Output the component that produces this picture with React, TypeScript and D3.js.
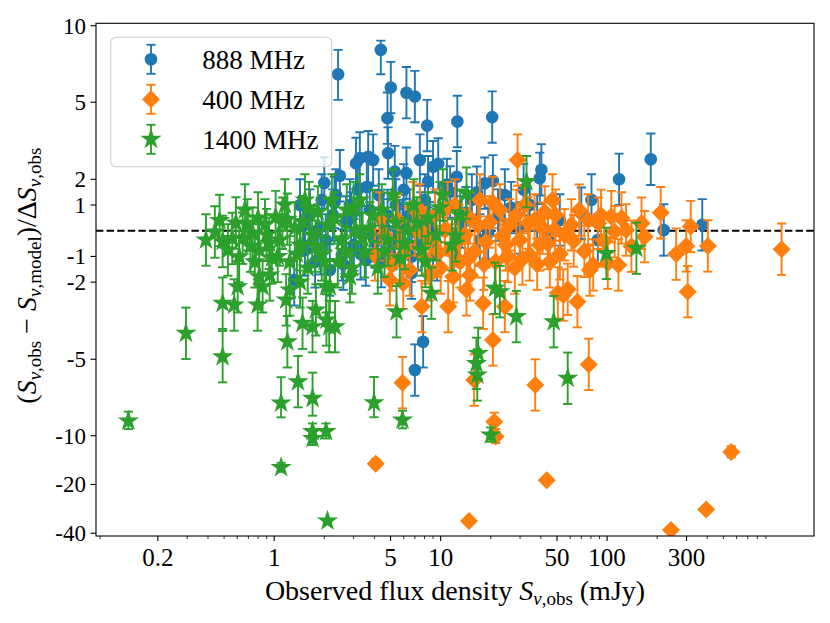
import React from 'react';
import * as d3 from 'd3';

const W = 830;
const H = 623;
const LEFT = 96;
const RIGHT = 814;
const TOP = 23.3;
const BOTTOM = 536;
const FONT = '"Liberation Serif", "Times New Roman", serif';

const X_DOMAIN: [number, number] = [0.085, 1750];
const Y_DOMAIN: [number, number] = [-41.6, 10.35];
const LINTHRESH = 7;
const YERR = 1;

const xTicks = [0.2, 1, 5, 10, 50, 100, 300];
const xTickLabels = ['0.2', '1', '5', '10', '50', '100', '300'];
const yTicks = [10, 5, 2, 1, -1, -2, -5, -10, -20, -40];
const yTickLabels = ['10', '5', '2', '1', '-1', '-2', '-5', '-10', '-20', '-40'];

const seriesNames = ['888 MHz', '400 MHz', '1400 MHz'];
const seriesColors = ['#1f77b4', '#ff7f0e', '#2ca02c'];
const seriesMarkers = ['circle', 'diamond', 'star'];

const blue888: [number, number][] = [
  [2.42, 6.09], [4.37, 7.09], [5.02, 5.57], [6.23, 5.37], [7.0, 5.22], [4.79, 4.38], [8.3, 4.09],
  [12.6, 4.25], [20.4, 4.42], [4.83, 3.02], [3.27, 2.83], [3.67, 2.88], [3.93, 2.75], [2.48, 2.14],
  [7.5, 2.75], [9.0, 2.49], [9.67, 2.6], [6.23, 2.24], [12.5, 2.1], [20.6, 1.94], [18.4, 1.85],
  [40.3, 2.37], [39.4, 2.04], [8.4, 1.91], [5.3, 2.3], [118, 2.0], [183, 2.78], [373, 0.23],
  [219, 0.03], [70, 0.68], [52, 0.42], [7.85, -4.32], [7.0, -5.42], [6.68, -1.65], [1.32, -1.91],
  [3.1, 2.62], [2.0, 1.86],
  [1.43, 1.0], [1.53, -0.75], [1.64, 0.61], [1.76, -1.21], [1.83, 0.03], [1.93, 1.2], [2.04, -0.36],
  [2.16, -1.53], [2.25, 0.61], [2.35, 1.39], [2.55, -0.94], [2.7, 0.34], [2.85, 1.0], [3.01, -0.55],
  [3.18, 1.59], [3.36, -0.05], [3.55, -1.14], [3.75, 0.81], [4.03, -0.44], [4.25, 1.39], [4.55, 0.23],
  [4.95, -0.82], [5.38, 1.0], [5.68, -0.16], [6.0, 1.59], [6.52, 0.61], [7.3, -0.55], [8.04, 1.2],
  [8.6, 0.11], [9.5, -0.94], [10.4, 0.81], [11.4, 1.51], [13.4, 0.34], [15.4, 1.2], [17.2, -0.36],
  [22.1, 0.61], [24.3, 1.39], [29.9, 0.11], [34.3, 1.0], [44.2, -0.28], [80.6, 1.2], [88, -0.36],
  [1.5, 0.2], [1.9, -0.7], [2.3, 1.1], [2.6, -1.3], [2.9, 0.5], [3.3, -0.9], [3.6, 1.7], [3.9, -0.2],
  [4.4, -1.2], [4.8, 0.6], [5.2, -0.5], [5.9, 0.2], [6.7, -1.0], [7.6, 0.5], [9.0, -0.4], [10.9, 1.8],
  [12.0, -0.9], [14.2, 0.7], [16.5, 1.5], [19.3, -0.1], [26.5, 0.9], [31.5, 1.6], [38, 0.4],
];

const orange400: [number, number][] = [
  [29, 2.75], [20.6, -4.25], [7.7, -2.95], [11.1, -2.95], [14.3, -2.3], [18.0, -2.82], [24.3, -2.95],
  [11.9, -1.79], [5.96, -2.04], [50.6, -2.42], [5.9, -5.91], [4.07, -14.9], [15.9, -5.81], [21, -8.2],
  [21.4, -10.1], [14.8, -33.6], [37, -6.0], [77.6, -5.2], [66.3, -2.76], [43.4, -18.8], [557, -12.6],
  [394, -28.5], [242, -38.2], [1118, -0.72], [305, -2.37], [260, -0.91], [299, -0.59], [403, -0.59],
  [318, 0.16], [210, 0.7], [161, 0.29], [168, -0.23], [117, -1.33], [78.7, -1.53], [82.5, -1.33],
  [58, -2.28], [54.5, -2.5], [106, 0.55], [88.5, 0.29], [77, 0.42], [130, 0.03], [111, -0.04],
  [101, -1.26], [49, 0.61], [55.5, -0.16], [61, 0.23],
  [4.03, -0.94], [4.62, -0.16], [5.09, -1.33], [5.53, 0.42], [6.1, -0.67], [6.52, -1.53], [7.0, 0.03],
  [7.5, 0.81], [8.04, -1.06], [8.6, -0.36], [9.25, 0.61], [10, -1.45], [10.6, 0.03], [11.4, -0.75],
  [12.2, 1.0], [13.1, -1.21], [14.0, -0.16], [15.0, 0.5], [16.0, -0.82], [17.2, 1.2], [18.7, -0.44],
  [19.7, 0.34], [21.4, -1.21], [22.7, 0.81], [24.6, -0.55], [26.0, 0.23], [27.9, -1.45], [29.9, -0.36],
  [32.1, 1.0], [34.3, -0.94], [36.7, 0.42], [39.4, -0.55], [42.2, 0.73], [45.3, -1.21], [48.6, 0.03],
  [15.0, -1.72], [8.6, -1.72], [4.95, -1.91],
  [4.3, 0.5], [5.8, -1.0], [6.8, 0.9], [7.9, -0.1], [9.6, -0.8], [11.0, 0.9], [12.8, -0.4], [14.6, -1.1],
  [16.8, 0.2], [18.2, -1.3], [20.5, 1.1], [23.5, -0.2], [25.3, -1.0], [28.5, 0.6], [31, -1.1], [33.5, 0.3],
  [38, -1.3], [41, 0.1], [44, -0.5], [47, 1.2], [52, -0.9], [63, -0.4], [68, 0.8], [73, -0.8], [92, 0.6],
  [96, -0.4], [122, 0.5], [140, -0.6],
];

const green1400: [number, number][] = [
  [0.133, -8.1], [1.1, -6.7], [1.39, -5.87], [1.7, -6.52], [1.7, -9.4], [2.05, -9.4], [1.7, -10.4],
  [1.1, -15.7], [2.09, -33.6], [3.98, -6.69], [5.9, -8.0], [16.6, -5.61], [20.0, -9.89], [47.8, -3.54],
  [58, -5.74], [32.8, 1.91], [14.3, 1.46], [21.2, -2.24], [28.5, -3.34], [8.8, -2.43], [5.43, -3.15],
  [2.32, -3.73], [2.06, -3.47], [2.85, -1.79], [2.16, -2.18], [16.8, -4.77], [16.4, -5.16], [22.7, -2.37],
  [99, -0.88], [150, -0.68], [0.389, -0.36], [0.49, -0.42], [0.589, 0.3], [0.69, 0.23], [0.646, -0.29],
  [0.742, -0.1], [0.616, -1.01], [0.813, -0.75], [0.933, -0.49], [1.02, 0.55], [1.12, 0.29], [0.603, -2.18],
  [0.49, -2.82], [0.575, -2.89], [0.795, -2.89], [0.813, -1.79], [0.852, -2.18], [0.295, -3.99], [0.49, -4.9],
  [1.18, -2.69], [1.2, -4.32], [1.48, -3.6], [1.7, -3.73], [2.14, -3.73], [1.78, -3.08], [2.05, -2.18],
  [0.44, -0.05], [0.527, -0.75], [0.667, 0.81], [0.765, -1.21], [0.88, 0.23], [0.969, -1.06], [1.08, -0.36],
  [1.16, 1.0], [1.24, -1.21], [1.33, 0.11], [1.43, -0.55], [1.53, 1.2], [1.59, -1.45], [1.69, -0.16],
  [1.83, 0.73], [1.93, -0.94], [2.1, 0.23], [2.22, 1.2], [2.41, -1.21], [2.55, -0.36], [2.73, 0.81],
  [2.93, -1.45], [3.09, 0.03], [3.27, 1.2], [3.5, -0.82], [3.75, 0.11], [4.19, -1.45], [4.43, 0.81],
  [4.82, -0.36], [5.16, 1.39], [5.68, -1.06], [6.36, 0.03], [6.9, 1.0], [7.7, -0.75], [8.4, 0.5],
  [9.4, -0.16], [10.3, 1.39], [11.7, -0.55], [13.1, 0.61], [1.43, -1.99], [0.94, -1.72], [1.24, -2.3],
  [0.47, 0.4], [0.56, -0.3], [0.72, -0.6], [0.8, 0.5], [0.9, -0.15], [1.05, -1.0], [1.2, 0.45], [1.37, -0.9],
  [1.48, 0.35], [1.62, 0.9], [1.77, -0.6], [2.0, -1.2], [2.3, 0.5], [2.65, -0.8], [3.0, 0.9], [3.4, -0.3],
  [3.9, 0.6], [4.6, -0.8], [5.4, 0.3], [6.1, -0.5], [7.2, 0.3], [8.1, -1.2], [9.9, 0.9], [12.3, -0.2],
];

const seriesData = [blue888, orange400, green1400];

const LINSCALE_ADJ = 1 / (1 - 1 / 10);
function symlog(v: number): number {
  const a = Math.abs(v);
  if (a <= LINTHRESH) return v * LINSCALE_ADJ;
  return Math.sign(v) * LINTHRESH * (LINSCALE_ADJ + Math.log10(a / LINTHRESH));
}

const xScale = d3.scaleLog().domain(X_DOMAIN).range([LEFT, RIGHT]);
const yLin = d3.scaleLinear().domain([symlog(Y_DOMAIN[0]), symlog(Y_DOMAIN[1])]).range([BOTTOM, TOP]);
const yScale = (v: number) => yLin(symlog(v));

const minorTicks: number[] = [];
for (let k = -2; k <= 3; k++) {
  for (let m = 2; m <= 9; m++) {
    const v = m * Math.pow(10, k);
    if (v >= X_DOMAIN[0] && v <= X_DOMAIN[1] && !xTicks.some((t) => Math.abs(t - v) / v < 1e-6)) minorTicks.push(v);
  }
}

const starPath = d3.symbol(d3.symbolStar, (11.2 * 11.2) / 0.8908130915292852)()!;
const diamondPath = 'M0,-9L9,0L0,9L-9,0Z';

function Marker({ kind, x, y, color }: { kind: string; x: number; y: number; color: string }) {
  if (kind === 'circle') return <circle cx={x} cy={y} r={6.3} fill={color} />;
  if (kind === 'diamond') return <path d={diamondPath} transform={`translate(${x},${y})`} fill={color} />;
  return <path d={starPath} transform={`translate(${x},${y})`} fill={color} />;
}

function ErrBar({ x, y0, y1, color }: { x: number; y0: number; y1: number; color: string }) {
  const cw = 4.6;
  return (
    <g stroke={color} strokeWidth={1.9}>
      <line x1={x} x2={x} y1={y0} y2={y1} />
      <line x1={x - cw} x2={x + cw} y1={y0} y2={y0} />
      <line x1={x - cw} x2={x + cw} y1={y1} y2={y1} />
    </g>
  );
}

const TICK_FONT = 23;

export default function App() {
  const legendY = [59.3, 99.3, 139.3];
  return (
    <svg width={W} height={H} style={{ position: 'absolute', left: 0, top: 0, background: '#fff' }} fontFamily={FONT}>
      <rect x={0} y={0} width={W} height={H} fill="#fff" />
      <defs>
        <clipPath id="plotclip">
          <rect x={LEFT} y={TOP} width={RIGHT - LEFT} height={BOTTOM - TOP} />
        </clipPath>
      </defs>
      <g clipPath="url(#plotclip)">
        <line x1={LEFT} x2={RIGHT} y1={yScale(0)} y2={yScale(0)} stroke="#000" strokeWidth={2} strokeDasharray="7.4 3.2" />
        {seriesData.map((data, si) => (
          <g key={si}>
            {data.map((d, i) => (
              <ErrBar key={'e' + i} x={xScale(d[0])} y0={yScale(d[1] - YERR)} y1={yScale(d[1] + YERR)} color={seriesColors[si]} />
            ))}
            {data.map((d, i) => (
              <Marker key={'m' + i} kind={seriesMarkers[si]} x={xScale(d[0])} y={yScale(d[1])} color={seriesColors[si]} />
            ))}
          </g>
        ))}
      </g>
      <rect x={LEFT} y={TOP} width={RIGHT - LEFT} height={BOTTOM - TOP} fill="none" stroke="#000" strokeWidth={1.1} />
      {xTicks.map((t, i) => (
        <g key={'xt' + i}>
          <line x1={xScale(t)} x2={xScale(t)} y1={BOTTOM} y2={BOTTOM + 5} stroke="#000" strokeWidth={1.1} />
          <text x={xScale(t)} y={566} textAnchor="middle" fontSize={TICK_FONT + 2}>{xTickLabels[i]}</text>
        </g>
      ))}
      {minorTicks.map((t, i) => (
        <line key={'xm' + i} x1={xScale(t)} x2={xScale(t)} y1={BOTTOM} y2={BOTTOM + 3} stroke="#000" strokeWidth={0.8} />
      ))}
      {yTicks.map((t, i) => (
        <g key={'yt' + i}>
          <line x1={LEFT - 5.5} x2={LEFT} y1={yScale(t)} y2={yScale(t)} stroke="#000" strokeWidth={1.1} />
          <text x={86} y={yScale(t)} dy="0.34em" textAnchor="end" fontSize={TICK_FONT}>{yTickLabels[i]}</text>
        </g>
      ))}
      <text x={(LEFT + RIGHT) / 2} y={600} textAnchor="middle" fontSize={28}>
        Observed flux density <tspan fontStyle="italic">S</tspan>
        <tspan fontSize={19} dy={5}><tspan fontStyle="italic">ν</tspan>,obs</tspan>
        <tspan dy={-5}> (mJy)</tspan>
      </text>
      <text transform={`translate(36,${(TOP + BOTTOM) / 2 - 4}) rotate(-90)`} textAnchor="middle" fontSize={28}>
        (<tspan fontStyle="italic">S</tspan>
        <tspan fontSize={19} dy={5}><tspan fontStyle="italic">ν</tspan>,obs</tspan>
        <tspan dy={-5}> − </tspan>
        <tspan fontStyle="italic">S</tspan>
        <tspan fontSize={19} dy={5}><tspan fontStyle="italic">ν</tspan>,model</tspan>
        <tspan dy={-5}>)/Δ</tspan>
        <tspan fontStyle="italic">S</tspan>
        <tspan fontSize={19} dy={5}><tspan fontStyle="italic">ν</tspan>,obs</tspan>
      </text>
      <rect x={110.7} y={37.3} width={221} height={129.4} rx={5} fill="#fff" fillOpacity={0.8} stroke="#cccccc" strokeWidth={1.1} />
      {seriesNames.map((name, i) => (
        <g key={'lg' + i}>
          <ErrBar x={151} y0={legendY[i] - 14.5} y1={legendY[i] + 14.5} color={seriesColors[i]} />
          <Marker kind={seriesMarkers[i]} x={151} y={legendY[i]} color={seriesColors[i]} />
          <text x={202.3} y={legendY[i] + 9.5} fontSize={27}>{name}</text>
        </g>
      ))}
    </svg>
  );
}
